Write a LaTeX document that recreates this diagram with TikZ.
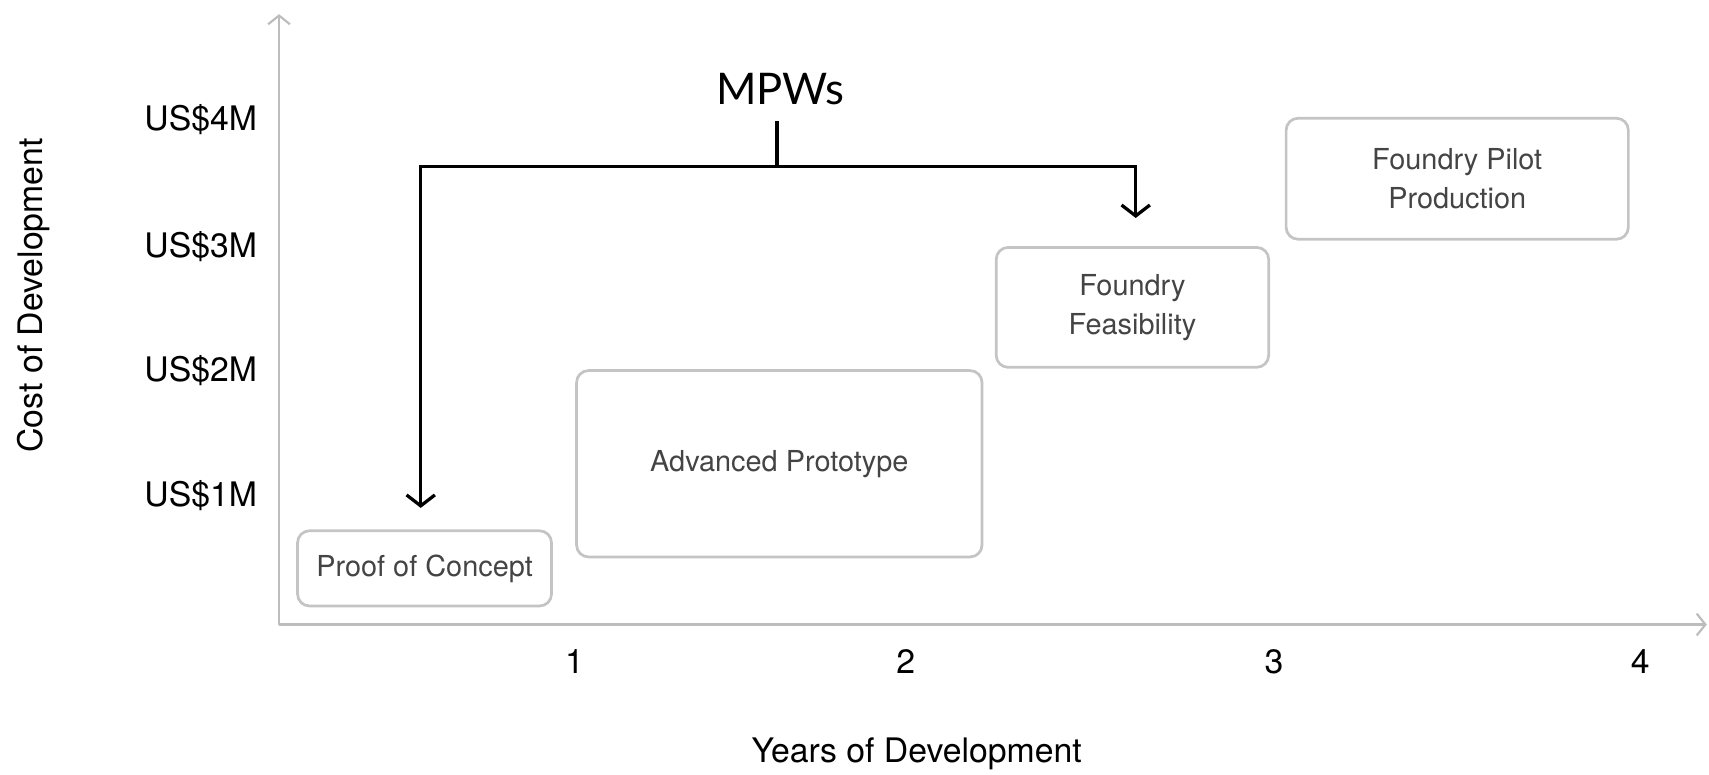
\documentclass[tikz,border=0pt]{standalone}
\usepackage{fontspec}
\setmainfont{TeX Gyre Heros}
\newfontfamily\latofont{Lato}
\usetikzlibrary{arrows.meta}
\definecolor{axisgray}{HTML}{BDBDBD}
\definecolor{boxgray}{HTML}{C4C4C4}
\definecolor{txtgray}{HTML}{444444}
\begin{document}
\begin{tikzpicture}[x=1pt,y=-1pt,
  axisline/.style={draw=axisgray,line width=2pt,-{Straight Barb[length=8pt,width=20pt,line width=2pt]}},
  axislabel/.style={font=\fontsize{31}{37}\selectfont,text=black,inner sep=0pt},
  stagebox/.style={draw=boxgray,line width=2.5pt,rounded corners=11pt,text=txtgray,
    font=\fontsize{26.5}{36}\selectfont,align=center,inner sep=0pt},
  bracket/.style={draw=black,line width=3pt},
  bracketarrow/.style={bracket,-{Straight Barb[length=10pt,width=26pt,line width=3pt]}}
]
\useasboundingbox (0,0) rectangle (1568,711);
% axes
\coordinate (origin) at (256,573);
\coordinate (ytop) at (256,13);
\coordinate (xend) at (1566,573);
\draw[axisline] (origin) -- (ytop);
\draw[axisline] (origin) -- (xend);
% y labels
\node[axislabel,anchor=east] (y4) at (236,110) {US\$4M};
\node[axislabel,anchor=east] (y3) at (236,226) {US\$3M};
\node[axislabel,anchor=east] (y2) at (236,340) {US\$2M};
\node[axislabel,anchor=east] (y1) at (236,455) {US\$1M};
\node[axislabel,rotate=90] (ytitle) at (31,271) {Cost of Development};
% x labels
\node[axislabel] (x1) at (527,607) {1};
\node[axislabel] (x2) at (831,607) {2};
\node[axislabel] (x3) at (1169,607) {3};
\node[axislabel] (x4) at (1505,607) {4};
\node[axislabel] (xtitle) at (841,692) {Years of Development};
% stage boxes
\node[stagebox,minimum width=233pt,minimum height=69pt] (poc) at (389.5,521.5) {Proof of Concept};
\node[stagebox,minimum width=372pt,minimum height=171pt] (adv) at (715,425.5) {Advanced Prototype};
\node[stagebox,minimum width=250pt,minimum height=110pt] (feas) at (1039,282) {Foundry\\Feasibility};
\node[stagebox,minimum width=314pt,minimum height=111pt] (pilot) at (1337,164) {Foundry Pilot\\Production};
% MPWs bracket
\node[font=\latofont\fontsize{40}{44}\selectfont,inner sep=0pt] (mpw) at (716,82) {MPWs};
\coordinate (stubtop) at (713,111);
\coordinate (junction) at (713,153);
\coordinate (leftend) at (386,466);
\coordinate (rightend) at (1042,200);
\draw[bracket] (stubtop) -- (junction);
\draw[bracketarrow] (junction) -| (leftend);
\draw[bracketarrow] (junction) -| (rightend);
\end{tikzpicture}
\end{document}
